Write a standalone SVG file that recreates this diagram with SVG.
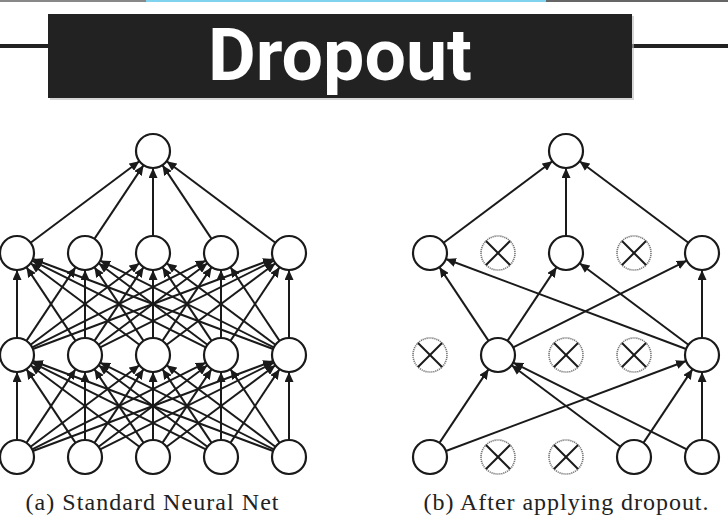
<svg xmlns="http://www.w3.org/2000/svg" width="728" height="524" viewBox="0 0 728 524">
<style>
.edge{stroke:#1a1a1a;stroke-width:2;fill:none;marker-end:url(#ah)}
.node{fill:#fff;stroke:#1a1a1a;stroke-width:2.2}
.drop circle{fill:#fff;stroke:#777;stroke-width:1.6;stroke-dasharray:1.2 0.8}
.drop line{stroke:#1a1a1a;stroke-width:2}
.cap{font-family:"Liberation Serif","DejaVu Serif",serif;font-size:24px;fill:#222}
</style>
<defs>
<marker id="ah" markerUnits="userSpaceOnUse" markerWidth="11" markerHeight="9" refX="10" refY="4.5" orient="auto">
<path d="M0,0 L10,4.5 L0,9 z" fill="#1a1a1a"/>
</marker>
</defs>
<rect width="728" height="524" fill="#fff"/>
<g id="header">
<rect x="0" y="0" width="146" height="2" fill="#888"/>
<rect x="146" y="0" width="400" height="2" fill="#7fd3ee"/>
<rect x="546" y="0" width="182" height="2" fill="#666"/>
<rect x="0" y="44" width="48" height="4" fill="#222"/>
<rect x="632" y="44" width="96" height="4" fill="#222"/>
<rect x="50" y="16" width="584" height="84" fill="#bbb" opacity="0.6"/>
<rect x="48" y="14" width="584" height="84" fill="#222"/>
<text x="340" y="80" text-anchor="middle" font-family="Roboto,'Liberation Sans',sans-serif" font-weight="bold" font-size="73" fill="#fff" textLength="264" lengthAdjust="spacingAndGlyphs">Dropout</text>
</g>
<g id="connectors">
<g id="a-l0-l1">
<line class="edge" x1="17" y1="440" x2="17" y2="372"/>
<line class="edge" x1="26.43" y1="442.85" x2="75.57" y2="369.15"/>
<line class="edge" x1="30.6" y1="446.8" x2="139.4" y2="365.2"/>
<line class="edge" x1="32.2" y1="449.4" x2="205.8" y2="362.6"/>
<line class="edge" x1="32.92" y1="451.03" x2="273.08" y2="360.97"/>
<line class="edge" x1="75.57" y1="442.85" x2="26.43" y2="369.15"/>
<line class="edge" x1="85" y1="440" x2="85" y2="372"/>
<line class="edge" x1="94.43" y1="442.85" x2="143.57" y2="369.15"/>
<line class="edge" x1="98.6" y1="446.8" x2="207.4" y2="365.2"/>
<line class="edge" x1="100.2" y1="449.4" x2="273.8" y2="362.6"/>
<line class="edge" x1="139.4" y1="446.8" x2="30.6" y2="365.2"/>
<line class="edge" x1="143.57" y1="442.85" x2="94.43" y2="369.15"/>
<line class="edge" x1="153" y1="440" x2="153" y2="372"/>
<line class="edge" x1="162.43" y1="442.85" x2="211.57" y2="369.15"/>
<line class="edge" x1="166.6" y1="446.8" x2="275.4" y2="365.2"/>
<line class="edge" x1="205.8" y1="449.4" x2="32.2" y2="362.6"/>
<line class="edge" x1="207.4" y1="446.8" x2="98.6" y2="365.2"/>
<line class="edge" x1="211.57" y1="442.85" x2="162.43" y2="369.15"/>
<line class="edge" x1="221" y1="440" x2="221" y2="372"/>
<line class="edge" x1="230.43" y1="442.85" x2="279.57" y2="369.15"/>
<line class="edge" x1="273.08" y1="451.03" x2="32.92" y2="360.97"/>
<line class="edge" x1="273.8" y1="449.4" x2="100.2" y2="362.6"/>
<line class="edge" x1="275.4" y1="446.8" x2="166.6" y2="365.2"/>
<line class="edge" x1="279.57" y1="442.85" x2="230.43" y2="369.15"/>
<line class="edge" x1="289" y1="440" x2="289" y2="372"/>
</g>
<g id="a-l1-l2">
<line class="edge" x1="17" y1="338" x2="17" y2="270"/>
<line class="edge" x1="26.43" y1="340.85" x2="75.57" y2="267.15"/>
<line class="edge" x1="30.6" y1="344.8" x2="139.4" y2="263.2"/>
<line class="edge" x1="32.2" y1="347.4" x2="205.8" y2="260.6"/>
<line class="edge" x1="32.92" y1="349.03" x2="273.08" y2="258.97"/>
<line class="edge" x1="75.57" y1="340.85" x2="26.43" y2="267.15"/>
<line class="edge" x1="85" y1="338" x2="85" y2="270"/>
<line class="edge" x1="94.43" y1="340.85" x2="143.57" y2="267.15"/>
<line class="edge" x1="98.6" y1="344.8" x2="207.4" y2="263.2"/>
<line class="edge" x1="100.2" y1="347.4" x2="273.8" y2="260.6"/>
<line class="edge" x1="139.4" y1="344.8" x2="30.6" y2="263.2"/>
<line class="edge" x1="143.57" y1="340.85" x2="94.43" y2="267.15"/>
<line class="edge" x1="153" y1="338" x2="153" y2="270"/>
<line class="edge" x1="162.43" y1="340.85" x2="211.57" y2="267.15"/>
<line class="edge" x1="166.6" y1="344.8" x2="275.4" y2="263.2"/>
<line class="edge" x1="205.8" y1="347.4" x2="32.2" y2="260.6"/>
<line class="edge" x1="207.4" y1="344.8" x2="98.6" y2="263.2"/>
<line class="edge" x1="211.57" y1="340.85" x2="162.43" y2="267.15"/>
<line class="edge" x1="221" y1="338" x2="221" y2="270"/>
<line class="edge" x1="230.43" y1="340.85" x2="279.57" y2="267.15"/>
<line class="edge" x1="273.08" y1="349.03" x2="32.92" y2="258.97"/>
<line class="edge" x1="273.8" y1="347.4" x2="100.2" y2="260.6"/>
<line class="edge" x1="275.4" y1="344.8" x2="166.6" y2="263.2"/>
<line class="edge" x1="279.57" y1="340.85" x2="230.43" y2="267.15"/>
<line class="edge" x1="289" y1="338" x2="289" y2="270"/>
</g>
<g id="a-l2-out">
<line class="edge" x1="30.6" y1="242.8" x2="139.4" y2="161.2"/>
<line class="edge" x1="94.43" y1="238.85" x2="143.57" y2="165.15"/>
<line class="edge" x1="153" y1="236" x2="153" y2="168"/>
<line class="edge" x1="211.57" y1="238.85" x2="162.43" y2="165.15"/>
<line class="edge" x1="275.4" y1="242.8" x2="166.6" y2="161.2"/>
</g>
<g id="b-edges">
<line class="edge" x1="443.6" y1="242.8" x2="552.4" y2="161.2"/>
<line class="edge" x1="566" y1="236" x2="566" y2="168"/>
<line class="edge" x1="688.4" y1="242.8" x2="579.6" y2="161.2"/>
<line class="edge" x1="488.57" y1="340.85" x2="439.43" y2="267.15"/>
<line class="edge" x1="507.43" y1="340.85" x2="556.57" y2="267.15"/>
<line class="edge" x1="513.2" y1="347.4" x2="686.8" y2="260.6"/>
<line class="edge" x1="686.08" y1="349.03" x2="445.92" y2="258.97"/>
<line class="edge" x1="688.4" y1="344.8" x2="579.6" y2="263.2"/>
<line class="edge" x1="702" y1="338" x2="702" y2="270"/>
<line class="edge" x1="439.43" y1="442.85" x2="488.57" y2="369.15"/>
<line class="edge" x1="445.92" y1="451.03" x2="686.08" y2="360.97"/>
<line class="edge" x1="620.4" y1="446.8" x2="511.6" y2="365.2"/>
<line class="edge" x1="686.8" y1="449.4" x2="513.2" y2="362.6"/>
<line class="edge" x1="643.43" y1="442.85" x2="692.57" y2="369.15"/>
<line class="edge" x1="702" y1="440" x2="702" y2="372"/>
</g>
</g>
<g id="net-a">
<g id="a-out"><circle class="node" cx="153" cy="151" r="17"/></g>
<g id="a-h2-1"><circle class="node" cx="17" cy="253" r="17"/></g>
<g id="a-h2-2"><circle class="node" cx="85" cy="253" r="17"/></g>
<g id="a-h2-3"><circle class="node" cx="153" cy="253" r="17"/></g>
<g id="a-h2-4"><circle class="node" cx="221" cy="253" r="17"/></g>
<g id="a-h2-5"><circle class="node" cx="289" cy="253" r="17"/></g>
<g id="a-h1-1"><circle class="node" cx="17" cy="355" r="17"/></g>
<g id="a-h1-2"><circle class="node" cx="85" cy="355" r="17"/></g>
<g id="a-h1-3"><circle class="node" cx="153" cy="355" r="17"/></g>
<g id="a-h1-4"><circle class="node" cx="221" cy="355" r="17"/></g>
<g id="a-h1-5"><circle class="node" cx="289" cy="355" r="17"/></g>
<g id="a-in-1"><circle class="node" cx="17" cy="457" r="17"/></g>
<g id="a-in-2"><circle class="node" cx="85" cy="457" r="17"/></g>
<g id="a-in-3"><circle class="node" cx="153" cy="457" r="17"/></g>
<g id="a-in-4"><circle class="node" cx="221" cy="457" r="17"/></g>
<g id="a-in-5"><circle class="node" cx="289" cy="457" r="17"/></g>
</g>
<g id="net-b">
<g id="b-out"><circle class="node" cx="566" cy="151" r="17"/></g>
<g id="b-h2-1"><circle class="node" cx="430" cy="253" r="17"/></g>
<g id="b-h2-2" class="drop"><circle cx="498" cy="253" r="17"/><line x1="486" y1="241" x2="510" y2="265"/><line x1="510" y1="241" x2="486" y2="265"/></g>
<g id="b-h2-3"><circle class="node" cx="566" cy="253" r="17"/></g>
<g id="b-h2-4" class="drop"><circle cx="634" cy="253" r="17"/><line x1="622" y1="241" x2="646" y2="265"/><line x1="646" y1="241" x2="622" y2="265"/></g>
<g id="b-h2-5"><circle class="node" cx="702" cy="253" r="17"/></g>
<g id="b-h1-1" class="drop"><circle cx="430" cy="355" r="17"/><line x1="418" y1="343" x2="442" y2="367"/><line x1="442" y1="343" x2="418" y2="367"/></g>
<g id="b-h1-2"><circle class="node" cx="498" cy="355" r="17"/></g>
<g id="b-h1-3" class="drop"><circle cx="566" cy="355" r="17"/><line x1="554" y1="343" x2="578" y2="367"/><line x1="578" y1="343" x2="554" y2="367"/></g>
<g id="b-h1-4" class="drop"><circle cx="634" cy="355" r="17"/><line x1="622" y1="343" x2="646" y2="367"/><line x1="646" y1="343" x2="622" y2="367"/></g>
<g id="b-h1-5"><circle class="node" cx="702" cy="355" r="17"/></g>
<g id="b-in-1"><circle class="node" cx="430" cy="457" r="17"/></g>
<g id="b-in-2" class="drop"><circle cx="498" cy="457" r="17"/><line x1="486" y1="445" x2="510" y2="469"/><line x1="510" y1="445" x2="486" y2="469"/></g>
<g id="b-in-3" class="drop"><circle cx="566" cy="457" r="17"/><line x1="554" y1="445" x2="578" y2="469"/><line x1="578" y1="445" x2="554" y2="469"/></g>
<g id="b-in-4"><circle class="node" cx="634" cy="457" r="17"/></g>
<g id="b-in-5"><circle class="node" cx="702" cy="457" r="17"/></g>
</g>
<g id="captions">
<text class="cap" x="152" y="510" text-anchor="middle" textLength="253">(a) Standard Neural Net</text>
<text class="cap" x="566" y="510" text-anchor="middle" textLength="285">(b) After applying dropout.</text>
</g>
</svg>
